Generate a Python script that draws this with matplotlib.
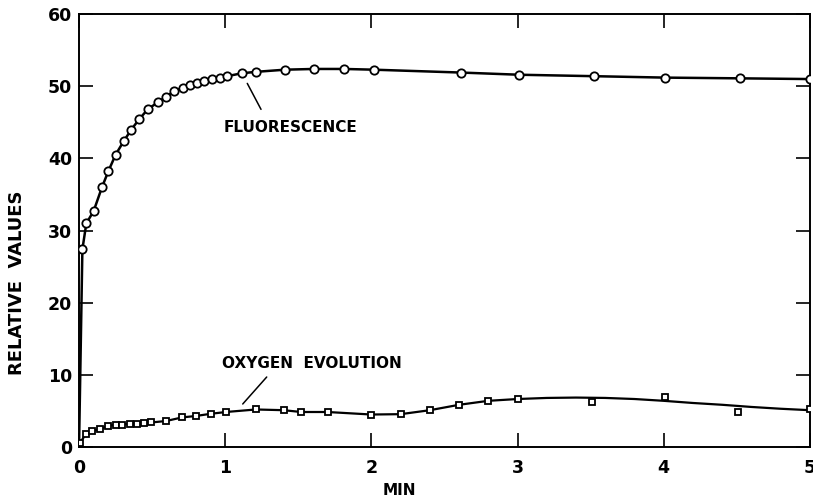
"""Fluorescence and oxygen evolution time course"""

import matplotlib
matplotlib.use("Agg")
import matplotlib.pyplot as plt

# fluorescence (circles); first point is the dark start, drawn without marker
fluor_min = [0.0, 0.023, 0.05, 0.10, 0.157, 0.20, 0.25, 0.306, 0.358, 0.41,
             0.47, 0.54, 0.593, 0.648, 0.71, 0.76, 0.81, 0.855, 0.91, 0.962,
             1.014, 1.113, 1.21, 1.41, 1.607, 1.815, 2.015, 2.615, 3.01,
             3.52, 4.01, 4.52, 5.0]
fluor_val = [0.0, 27.4, 31.0, 32.7, 36.0, 38.2, 40.5, 42.4, 44.0, 45.4,
             46.8, 47.8, 48.5, 49.3, 49.8, 50.2, 50.5, 50.7, 51.0, 51.2,
             51.4, 51.8, 52.0, 52.3, 52.4, 52.4, 52.3, 51.9, 51.6,
             51.4, 51.2, 51.1, 51.0]

# oxygen evolution (squares)
oxy_min = [0.007, 0.046, 0.09, 0.144, 0.196, 0.25, 0.296, 0.347, 0.397, 0.445,
           0.495, 0.595, 0.705, 0.80, 0.90, 1.005, 1.21, 1.40, 1.52, 1.70,
           2.0, 2.20, 2.40, 2.60, 2.80, 3.0, 3.51, 4.01, 4.505, 5.0]
oxy_val = [0.6, 1.75, 2.2, 2.5, 2.9, 3.1, 3.1, 3.2, 3.2, 3.3,
           3.4, 3.6, 4.1, 4.3, 4.6, 4.85, 5.2, 5.1, 4.85, 4.85,
           4.5, 4.55, 5.1, 5.85, 6.4, 6.65, 6.2, 6.9, 4.9, 5.25]

# hand-drawn trend line through the oxygen data
oxy_fit_min = [0.007, 0.046, 0.09, 0.144, 0.196, 0.25, 0.347, 0.445, 0.595,
               0.705, 0.80, 0.90, 1.005, 1.21, 1.40, 1.52, 1.70, 2.0, 2.20,
               2.40, 2.60, 2.80, 3.0, 3.2, 3.4, 3.6, 3.8, 4.0, 4.2, 4.4,
               4.6, 4.8, 5.0]
oxy_fit_val = [0.6, 1.75, 2.2, 2.5, 2.9, 3.1, 3.2, 3.3, 3.6,
               4.1, 4.3, 4.6, 4.85, 5.2, 5.1, 4.85, 4.85, 4.5, 4.55,
               5.1, 5.85, 6.4, 6.65, 6.8, 6.85, 6.8, 6.65, 6.4, 6.1, 5.85,
               5.55, 5.3, 5.1]

x_ticks = [0, 1, 2, 3, 4, 5]
y_ticks = [0, 10, 20, 30, 40, 50, 60]


def label_curve(ax, text, text_xy, line_from, line_to):
    """Writes a curve label with a plain leader line"""
    ax.text(*text_xy, text, fontsize=11, fontweight="bold",
            va="center", ha="left")
    ax.annotate("", xy=line_to, xytext=line_from,
                arrowprops=dict(arrowstyle="-", color="black", lw=1.1,
                                shrinkA=0, shrinkB=0))


def plot_time_course():
    """Plots the figure"""
    fig = plt.figure(figsize=(8.13, 5.01), dpi=100)
    ax = fig.add_axes([0.0972, 0.1078, 0.899, 0.864])

    ax.plot(fluor_min, fluor_val, color="black", lw=1.8, marker="o",
            markersize=6, markerfacecolor="white", markeredgewidth=1.3,
            markevery=list(range(1, len(fluor_min))), zorder=3)

    ax.plot(oxy_fit_min, oxy_fit_val, color="black", lw=1.6, zorder=2)
    ax.plot(oxy_min, oxy_val, ls="none", marker="s", markersize=4.8,
            markerfacecolor="white", markeredgecolor="black",
            markeredgewidth=1.3, zorder=3)

    ax.set_xlim(0, 5)
    ax.set_ylim(0, 60)
    ax.set_xticks(x_ticks)
    ax.set_yticks(y_ticks)
    ax.tick_params(direction="in", length=10, width=1.2, top=True, right=True,
                   labelsize=12.5)
    ax.tick_params(axis="x", pad=9)
    ax.tick_params(axis="y", pad=5)
    for lab in ax.get_xticklabels() + ax.get_yticklabels():
        lab.set_fontweight("bold")
    for sp in ax.spines.values():
        sp.set_linewidth(1.4)

    ax.set_xlabel("MIN", fontsize=11, fontweight="bold")
    ax.xaxis.set_label_coords(0.438, -0.084)
    ax.set_ylabel("RELATIVE  VALUES", fontsize=13, fontweight="bold")
    ax.yaxis.set_label_coords(-0.072, 0.38)

    label_curve(ax, "FLUORESCENCE", (0.99, 44.3), (1.245, 46.8), (1.151, 50.4))
    label_curve(ax, "OXYGEN  EVOLUTION", (0.98, 11.6), (1.284, 9.7), (1.12, 5.96))

    fig.savefig("out.png", dpi=100)


if __name__ == "__main__":
    plot_time_course()
